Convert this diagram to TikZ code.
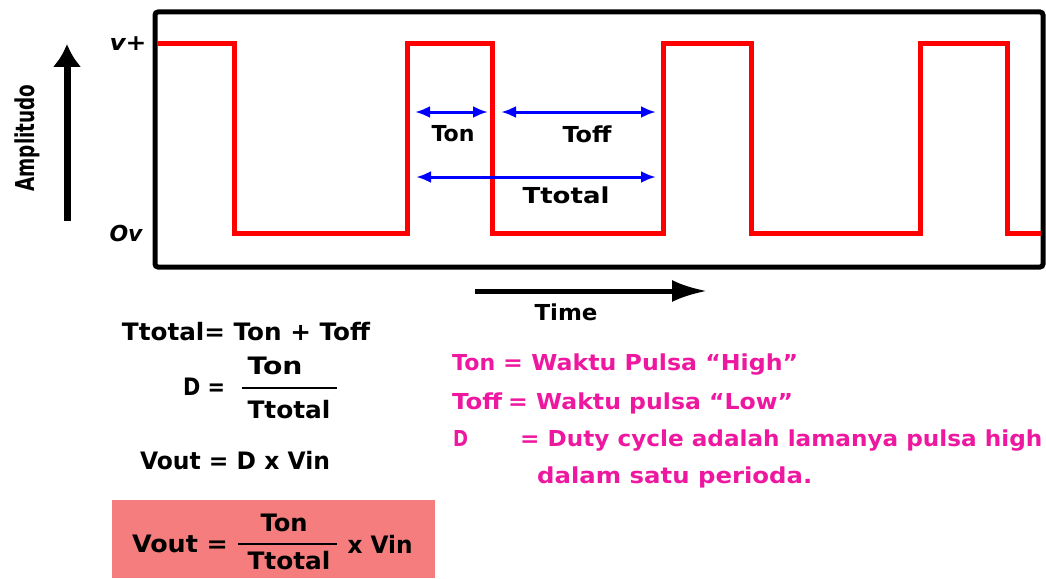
\documentclass[tikz,border=0pt]{standalone}
\usepackage{fontspec}
\setmainfont{DejaVu Sans}
\usetikzlibrary{arrows.meta}
\definecolor{sigred}{RGB}{255,0,0}
\definecolor{pinktxt}{RGB}{238,24,160}
\definecolor{boxfill}{RGB}{245,125,125}
\newcommand\wf[2]{\resizebox{#1pt}{\height}{#2}}
\begin{document}
\begin{tikzpicture}[x=1pt,y=-1pt,
  lbl/.style={inner sep=0pt, font=\fontsize{22}{24}\selectfont\bfseries},
  eq/.style={inner sep=0pt, font=\fontsize{24}{26}\selectfont\bfseries},
  pk/.style={inner sep=0pt, anchor=base west, text=pinktxt, font=\fontsize{22}{24}\selectfont\bfseries},
  blarrow/.style={blue, line width=3pt, {Latex[length=15pt,width=12pt]}-{Latex[length=15pt,width=12pt]}},
  sig/.style={sigred, line width=5pt},
  fracrule/.style={line width=2.6pt},
  axisarrow/.style={line width=7pt, -{Latex[length=23pt,width=29pt]}}
]
\useasboundingbox (0,0) rectangle (1046,578);
\fill[white] (0,0) rectangle (1046,578);

% frame
\draw[line width=5pt, rounded corners=3pt] (155,12) rectangle (1043,267);

% signal
\draw[sig] (157,44) -| (234,233) -| (407,44) -| (492,233) -| (663,44) -| (751,233) -| (920,44) -| (1007,233) -- (1041,233);

% level labels
\node[lbl, font=\fontsize{22}{24}\selectfont\bfseries\itshape] (vplus) at (128,44) {\wf{37}{v+}};
\node[lbl, font=\fontsize{22}{24}\selectfont\bfseries\itshape] (zerov) at (126,233) {\wf{33}{Ov}};

% amplitude axis
\coordinate (ampA) at (67,221);
\coordinate (ampB) at (67,44);
\draw[axisarrow] (ampA) -- (ampB);
\node[inner sep=0pt, rotate=90, font=\fontsize{26}{28}\selectfont\bfseries] (amp) at (27,138) {\wf{107}{Amplitudo}};

% time axis
\coordinate (timeA) at (475,291);
\coordinate (timeB) at (707,291);
\draw[line width=5pt, -{Latex[length=35pt,width=22pt]}] (timeA) -- (timeB);
\node[lbl] (time) at (566,312) {\wf{63}{Time}};

% timing arrows
\coordinate (onL) at (415,112);
\coordinate (onR) at (488,112);
\coordinate (offL) at (501,112);
\coordinate (offR) at (656,112);
\coordinate (totL) at (416,177);
\coordinate (totR) at (656,177);
\draw[blarrow] (onL) -- (onR);
\draw[blarrow] (offL) -- (offR);
\draw[blarrow] (totL) -- (totR);
\node[lbl] (ton) at (453,134) {\wf{43}{Ton}};
\node[lbl] (toff) at (587,134) {\wf{49}{Toff}};
\node[lbl] (ttotal) at (566,195) {\wf{87}{Ttotal}};

% formulas
\node[eq] (f1) at (246,332) {\wf{248}{Ttotal= Ton + Toff}};
\node[eq] (f2d) at (204,387) {\wf{42}{D =}};
\node[eq] (f2n) at (275,366) {\wf{55}{Ton}};
\node[eq] (f2den) at (289,410) {\wf{83}{Ttotal}};
\coordinate (f2rL) at (242,388);
\coordinate (f2rR) at (337,388);
\draw[fracrule] (f2rL) -- (f2rR);
\node[eq] (f3) at (235,461) {\wf{190}{Vout = D x Vin}};

% highlighted box
\fill[boxfill] (112,500) rectangle (435,578);
\node[eq] (b1) at (180,544) {\wf{96}{Vout =}};
\node[eq] (b2n) at (284,523) {\wf{47}{Ton}};
\node[eq] (b2den) at (289,561) {\wf{83}{Ttotal}};
\coordinate (b2rL) at (238,544);
\coordinate (b2rR) at (337,544);
\draw[fracrule] (b2rL) -- (b2rR);
\node[eq] (b3) at (380,544) {\wf{65}{x Vin}};

% pink explanation
\node[pk] (p1a) at (452,370) {\wf{43}{Ton}};
\node[pk] (p1b) at (503,370) {\wf{295}{= Waktu Pulsa ``High''}};
\node[pk] (p2a) at (452,409) {\wf{50}{Toff}};
\node[pk] (p2b) at (508,409) {\wf{285}{= Waktu pulsa ``Low''}};
\node[pk] (p3a) at (453,446) {\wf{15}{D}};
\node[pk] (p3b) at (520,446) {\wf{522}{= Duty cycle adalah lamanya pulsa high}};
\node[pk] (p4) at (537,483) {\wf{275}{dalam satu perioda.}};
\end{tikzpicture}
\end{document}
